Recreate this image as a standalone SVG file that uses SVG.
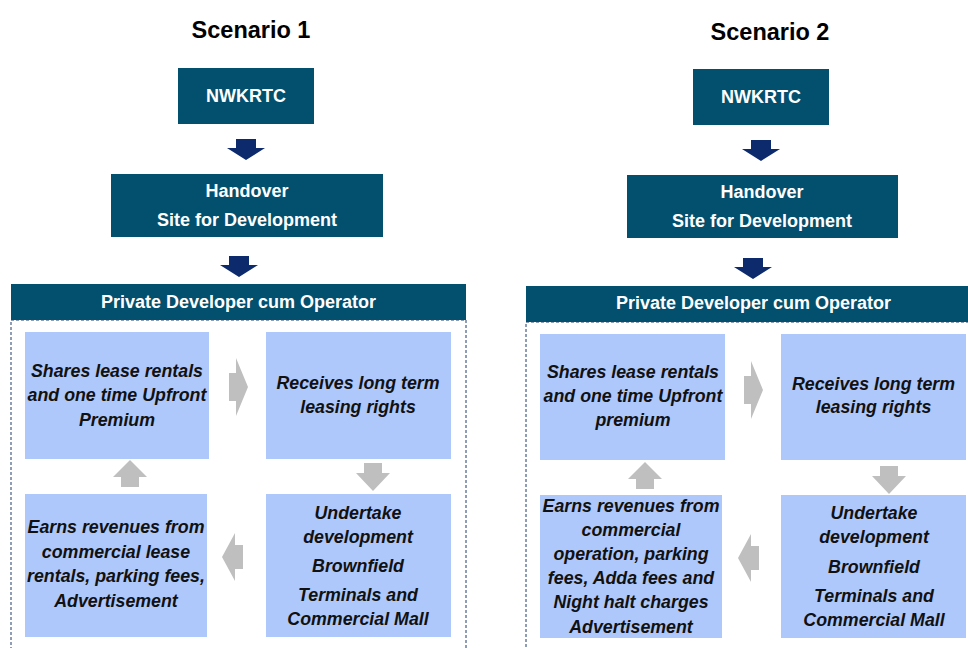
<svg xmlns="http://www.w3.org/2000/svg" width="968" height="648" viewBox="0 0 968 648">
  <style>
    .title { font-family: "Liberation Sans", Arial, sans-serif; font-weight: bold; font-size: 23.5px; fill: #000; text-anchor: middle; }
    .navy { fill: #03506e; }
    .navy-text { font-family: "Liberation Sans", Arial, sans-serif; font-weight: bold; font-size: 18px; fill: #fff; text-anchor: middle; }
    .step { fill: #afc8fb; }
    .step-text { font-family: "Liberation Sans", Arial, sans-serif; font-weight: bold; font-style: italic; font-size: 17.8px; fill: #111; text-anchor: middle; }
    .frame { fill: none; stroke: #1f3a6e; stroke-width: 1; stroke-dasharray: 3 2; }
    .flow { fill: #0c2a6c; }
    .cycle { fill: #bfbfbf; }
  </style>
  <defs>
    <path id="arrow-navy" d="M-10,0 H10 V9 H19 L0,21 L-19,9 H-10 Z"/>
    <path id="arrow-right" d="M0,-14 H7 V-29 L19,0 L7,29 V14 H0 Z"/>
    <path id="arrow-left" d="M0,-12 H-8 V-24 L-21,0 L-8,24 V12 H0 Z"/>
    <path id="arrow-up" d="M-9,0 V-10 H-17 L0,-27 L17,-10 H9 V0 Z"/>
    <path id="arrow-down" d="M-9,0 H9 V10 H17 L0,28 L-17,10 H-9 Z"/>
  </defs>

  <rect width="968" height="648" fill="#fff"/>

  <!-- Scenario 1 -->
  <text class="title" x="251" y="38">Scenario 1</text>

  <g id="s1-nwkrtc">
    <rect class="navy" x="178" y="68" width="136" height="56"/>
    <text class="navy-text" x="246" y="102">NWKRTC</text>
  </g>
  <g id="s1-handover">
    <rect class="navy" x="111" y="174" width="272" height="63"/>
    <text class="navy-text" x="247" y="197">Handover</text>
    <text class="navy-text" x="247" y="226">Site for Development</text>
  </g>
  <g id="s1-developer">
    <rect class="frame" x="11" y="320" width="455" height="340"/>
    <rect class="navy" x="11" y="284" width="455" height="36"/>
    <text class="navy-text" x="238.5" y="308">Private Developer cum Operator</text>
  </g>
  <g id="s1-shares">
    <rect class="step" x="25" y="332" width="184" height="127"/>
    <text class="step-text" x="117" y="377">Shares lease rentals</text>
    <text class="step-text" x="117" y="401">and one time Upfront</text>
    <text class="step-text" x="117" y="426">Premium</text>
  </g>
  <g id="s1-receives">
    <rect class="step" x="266" y="332" width="185" height="127"/>
    <text class="step-text" x="358" y="389">Receives long term</text>
    <text class="step-text" x="358" y="413">leasing rights</text>
  </g>
  <g id="s1-earns">
    <rect class="step" x="25" y="494" width="182" height="143"/>
    <text class="step-text" x="116" y="533">Earns revenues from</text>
    <text class="step-text" x="116" y="558">commercial lease</text>
    <text class="step-text" x="116" y="582">rentals, parking fees,</text>
    <text class="step-text" x="116" y="607">Advertisement</text>
  </g>
  <g id="s1-undertake">
    <rect class="step" x="266" y="494" width="185" height="143"/>
    <text class="step-text" x="358" y="519">Undertake</text>
    <text class="step-text" x="358" y="543">development</text>
    <text class="step-text" x="358" y="572">Brownfield</text>
    <text class="step-text" x="358" y="601">Terminals and</text>
    <text class="step-text" x="358" y="625">Commercial Mall</text>
  </g>

  <!-- Scenario 2 -->
  <text class="title" x="770" y="40">Scenario 2</text>

  <g id="s2-nwkrtc">
    <rect class="navy" x="693" y="69" width="136" height="56"/>
    <text class="navy-text" x="761" y="103">NWKRTC</text>
  </g>
  <g id="s2-handover">
    <rect class="navy" x="627" y="175" width="271" height="63"/>
    <text class="navy-text" x="762" y="198">Handover</text>
    <text class="navy-text" x="762" y="227">Site for Development</text>
  </g>
  <g id="s2-developer">
    <rect class="frame" x="526" y="322" width="460" height="340"/>
    <rect class="navy" x="526" y="286" width="460" height="36"/>
    <text class="navy-text" x="753.5" y="309">Private Developer cum Operator</text>
  </g>
  <g id="s2-shares">
    <rect class="step" x="540" y="334" width="185" height="126"/>
    <text class="step-text" x="633" y="378">Shares lease rentals</text>
    <text class="step-text" x="633" y="402">and one time Upfront</text>
    <text class="step-text" x="633" y="426">premium</text>
  </g>
  <g id="s2-receives">
    <rect class="step" x="781" y="334" width="185" height="126"/>
    <text class="step-text" x="873.5" y="390">Receives long term</text>
    <text class="step-text" x="873.5" y="413">leasing rights</text>
  </g>
  <g id="s2-earns">
    <rect class="step" x="540" y="495" width="182" height="143"/>
    <text class="step-text" x="631" y="512">Earns revenues from</text>
    <text class="step-text" x="631" y="536">commercial</text>
    <text class="step-text" x="631" y="560">operation, parking</text>
    <text class="step-text" x="631" y="584">fees, Adda fees and</text>
    <text class="step-text" x="631" y="608">Night halt charges</text>
    <text class="step-text" x="631" y="633">Advertisement</text>
  </g>
  <g id="s2-undertake">
    <rect class="step" x="781" y="495" width="185" height="143"/>
    <text class="step-text" x="874" y="519">Undertake</text>
    <text class="step-text" x="874" y="543">development</text>
    <text class="step-text" x="874" y="573">Brownfield</text>
    <text class="step-text" x="874" y="602">Terminals and</text>
    <text class="step-text" x="874" y="626">Commercial Mall</text>
  </g>

  <!-- Connectors -->
  <g id="connectors">
    <use href="#arrow-navy" class="flow" x="246" y="139"/>
    <use href="#arrow-navy" class="flow" x="239" y="256"/>
    <use href="#arrow-right" class="cycle" x="229" y="387"/>
    <use href="#arrow-down" class="cycle" x="373" y="463"/>
    <use href="#arrow-left" class="cycle" x="243" y="557"/>
    <use href="#arrow-up" class="cycle" x="130" y="487"/>

    <use href="#arrow-navy" class="flow" x="761" y="140"/>
    <use href="#arrow-navy" class="flow" x="753" y="258"/>
    <use href="#arrow-right" class="cycle" x="744" y="390"/>
    <use href="#arrow-down" class="cycle" x="889" y="466"/>
    <use href="#arrow-left" class="cycle" x="759" y="558"/>
    <use href="#arrow-up" class="cycle" x="645" y="489"/>
  </g>
</svg>
